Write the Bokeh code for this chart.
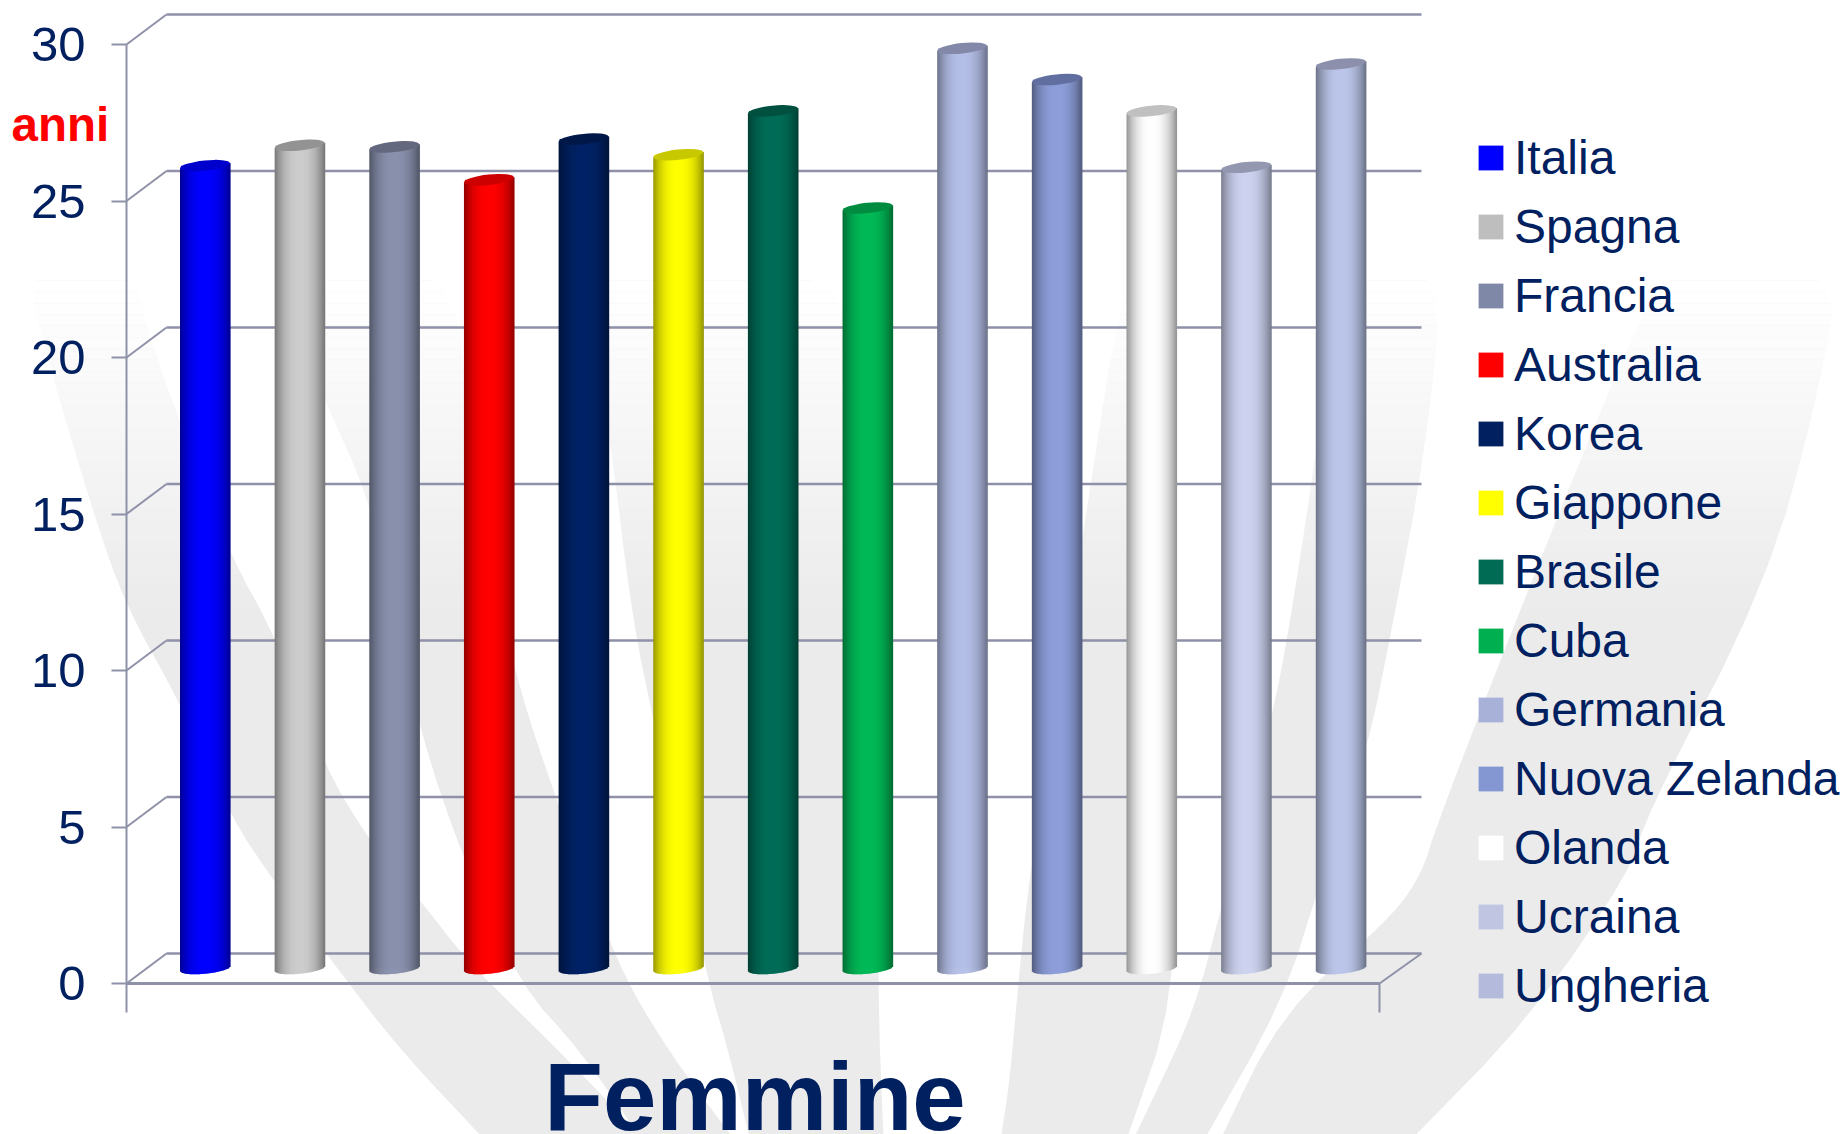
import math
from bokeh.plotting import figure
from bokeh.embed import file_html
from bokeh.resources import INLINE
from bokeh.models import (Range1d, FixedTicker, Legend, LegendItem, Label, LinearAxis)

countries = ["Italia", "Spagna", "Francia", "Australia", "Korea", "Giappone", "Brasile",
             "Cuba", "Germania", "Nuova Zelanda", "Olanda", "Ucraina", "Ungheria"]
values = [25.65, 26.3, 26.25, 25.2, 26.5, 26.0, 27.4, 24.3, 29.4, 28.4, 27.4, 25.6, 28.9]
legend_colors = ["#0000FF", "#BEBEBE", "#8088A8", "#FF0000", "#002060", "#FFFF00", "#006B54",
                 "#00B050", "#A8B2D8", "#8497D3", "#FFFFFF", "#C0C6E2", "#B3BADC"]
body_colors = ["#0000FF", "#CDCDCD", "#8A92AE", "#FF0000", "#002366", "#FFFF00", "#006E58",
               "#00BA58", "#B5C0E8", "#8E9FDB", "#FFFFFF", "#CDD3F0", "#BCC7EA"]
cap_colors = ["#0000CC", "#939393", "#64687E", "#CC0000", "#001848", "#C8C800", "#005040",
              "#008C40", "#8388A8", "#606EA0", "#C0C0C0", "#9398B0", "#8C90AC"]
y_ticks = [0, 5, 10, 15, 20, 25, 30]
title_text = "Femmine"
unit_text = "anni"

W, H = 1843, 1134
X0, DX = 204.5, 94.65      # px of first bar, px per category
Y0, DY = 983.0, 31.3       # px of value 0, px per year
def fx(px): return (px - X0) / DX
def fy(py): return (Y0 - py) / DY

AXIS = "#8E91A8"
TEXT = "#002060"
FONT = "Liberation Sans"
DEPTH_Y = 30
BAR_W = 50
A, B, TILT = 25.0, 5.2, math.radians(6)
BASE = 15 / DY

p = figure(width=W, height=H, output_backend="svg", toolbar_location=None,
           x_range=Range1d(fx(0), fx(W)), y_range=Range1d(fy(H), fy(0)),
           min_border_left=0, min_border_right=0, min_border_top=0, min_border_bottom=0,
           background_fill_color="white", border_fill_color="white",
           outline_line_color=None, x_axis_location=None, y_axis_location=None)
p.grid.visible = False

# background petals (decoration); the last point before/after each bottom edge is pushed far below the page
petals = [
    [(22,260),(51,372),(92,510),(125,605),(179,701),(230,816),(273,880),(333,963),(400,1050),(490,1145),(590,1260),
     (770,1260),(650,1145),(565,1057),(500,993),(464,957),(420,900),(370,842),(324,766),(275,636),(230,555),(190,450),(150,340),(130,260)],
    [(285,260),(300,340),(327,406),(367,494),(395,610),(420,734),(464,862),(520,985),(580,1050),(645,1145),(730,1260),
     (825,1260),(738,1145),(665,1047),(615,960),(558,805),(518,687),(490,560),(470,420),(450,260)],
    [(580,260),(600,380),(611,450),(632,619),(653,720),(707,980),(726,1043),(751,1145),(780,1260),
     (890,1260),(883,1145),(877,983),(880,700),(885,260)],
    [(1125,260),(1080,550),(1029,873),(1018,980),(1009,1083),(999,1145),(990,1260),
     (1085,1260),(1124,1145),(1175,998),(1172,800),(1162,500),(1165,260)],
    [(1340,260),(1316,450),(1289,626),(1271,720),(1221,906),(1194,1010),(1150,1103),(1130,1145),(1080,1260),
     (1140,1260),(1200,1145),(1283,1000),(1320,880),(1366,754),(1393,620),(1425,450),(1445,260)],
    [(1670,260),(1625,349),(1532,578),(1439,816),(1419,880),(1380,927),(1283,1010),(1216,1145),(1170,1260),
     (1290,1260),(1405,1145),(1530,1017),(1632,867),(1645,816),(1765,586),(1818,395),(1840,260)],
]
def chaikin(pts, n=2):
    for _ in range(n):
        out = []
        for i in range(len(pts)):
            (x0, y0), (x1, y1) = pts[i], pts[(i + 1) % len(pts)]
            out += [(0.75 * x0 + 0.25 * x1, 0.75 * y0 + 0.25 * y1), (0.25 * x0 + 0.75 * x1, 0.25 * y0 + 0.75 * y1)]
        pts = out
    return pts
smooth = [chaikin(pet) for pet in petals]
p.patches(xs=[[fx(a) for a, _ in pet] for pet in smooth], ys=[[fy(b) for _, b in pet] for pet in smooth],
          fill_color="#EBEBEB", line_color=None)
NF = 30
FADE_TOP, FADE_BOT = 280, 620
p.quad(left=[fx(0)] * NF, right=[fx(W)] * NF,
       top=[fy(FADE_TOP + (FADE_BOT - FADE_TOP) * k / NF) for k in range(NF)],
       bottom=[fy(FADE_TOP + (FADE_BOT - FADE_TOP) * (k + 1) / NF) for k in range(NF)],
       fill_color="white", fill_alpha=[1 - (k + 0.5) / NF for k in range(NF)], line_color=None)
p.quad(left=[fx(0)], right=[fx(W)], top=[fy(0)], bottom=[fy(FADE_TOP)], fill_color="white", line_color=None)

# 3-D walls
back_dy = DEPTH_Y / DY
p.segment(x0=[fx(166)] * len(y_ticks), x1=[fx(1421)] * len(y_ticks), y0=[v + back_dy for v in y_ticks],
          y1=[v + back_dy for v in y_ticks], line_color=AXIS, line_width=2.4)
p.segment(x0=[fx(126)] * len(y_ticks), x1=[fx(166)] * len(y_ticks), y0=y_ticks,
          y1=[v + back_dy for v in y_ticks], line_color=AXIS, line_width=2)
p.segment(x0=[fx(1379)], x1=[fx(1421)], y0=[0], y1=[back_dy], line_color=AXIS, line_width=2)

# cylinders
def lower_edge(dx):
    c, s = math.cos(TILT), math.sin(TILT)
    a2, b2 = A * A, B * B
    AA = c * c / a2 + s * s / b2
    BB = 2 * s * c * (1 / a2 - 1 / b2)
    CC = s * s / a2 + c * c / b2
    disc = max(0.0, BB * BB * dx * dx - 4 * CC * (AA * dx * dx - 1))
    return (-BB * dx - math.sqrt(disc)) / (2 * CC)

def shade(hexcol, f):
    r, g, b = [int(hexcol[i:i + 2], 16) for i in (1, 3, 5)]
    return "#%02x%02x%02x" % (int(r * f), int(g * f), int(b * f))

items = []
NS = 50
strip = BAR_W / DX / NS
for i, (name, v) in enumerate(zip(countries, values)):
    r = p.vbar(x=[i], top=[v + BASE], bottom=[BASE], width=(BAR_W - 2) / DX,
               fill_color=legend_colors[i], line_color=None)
    items.append(LegendItem(label=name, renderers=[r]))
    ls, rs, ts, bs, cs = [], [], [], [], []
    for k in range(NS):
        t = (k + 0.5) / NS * 2 - 1
        dxpx = t * A
        left = i + t * A / DX - strip / 2
        ls.append(left)
        rs.append(left + strip + 0.6 / DX)
        ts.append(v + BASE + dxpx * math.tan(TILT) / DY)
        bs.append(BASE + lower_edge(dxpx) / DY)
        cs.append(shade(body_colors[i], 1 - 0.42 * abs(t) ** 2.4))
    p.quad(left=ls, right=rs, top=ts, bottom=bs, fill_color=cs, line_color=None)
    p.ellipse(x=[i], y=[v + BASE], width=[2 * A], height=[2 * B], width_units="screen",
              height_units="screen", angle=[TILT], fill_color=cap_colors[i], line_color=None)

# axes, drawn at fixed places inside the frame
ya = LinearAxis(fixed_location=fx(126), ticker=FixedTicker(ticks=y_ticks), bounds=(0, 30),
                axis_line_color=AXIS, axis_line_width=2, major_tick_line_color=AXIS,
                major_tick_line_width=2, major_tick_in=0, major_tick_out=15,
                minor_tick_line_color=None, major_label_standoff=26, major_label_text_font=FONT,
                major_label_text_font_size="49px", major_label_text_color=TEXT)
p.add_layout(ya, "left")
xa = LinearAxis(fixed_location=0, ticker=FixedTicker(ticks=[fx(126), fx(1379)]),
                bounds=(fx(126), fx(1379)), axis_line_color=AXIS, axis_line_width=3,
                major_tick_line_color=AXIS, major_tick_line_width=2, major_tick_in=0,
                major_tick_out=29, minor_tick_line_color=None, major_label_text_font_size="0px",
                major_label_text_color=None)
p.add_layout(xa, "below")

p.add_layout(Label(x=fx(754.5), y=fy(1096), text=title_text, text_align="center",
                   text_baseline="alphabetic", text_font=FONT, text_font_style="bold",
                   text_font_size="96px", text_color=TEXT))
p.add_layout(Label(x=fx(11), y=fy(124), text=unit_text, text_align="left",
                   text_baseline="alphabetic", text_font=FONT, text_font_style="bold",
                   text_font_size="47.5px", text_color="#FF0000"))

legend = Legend(items=items, location=(1475, 121), orientation="vertical",
                glyph_width=31, glyph_height=31, label_standoff=8, spacing=14,
                padding=0, margin=0, background_fill_alpha=0, border_line_color=None,
                label_text_font=FONT, label_text_font_size="48px", label_text_color=TEXT)
p.add_layout(legend)

open("out.html", "w").write(file_html(p, INLINE))
